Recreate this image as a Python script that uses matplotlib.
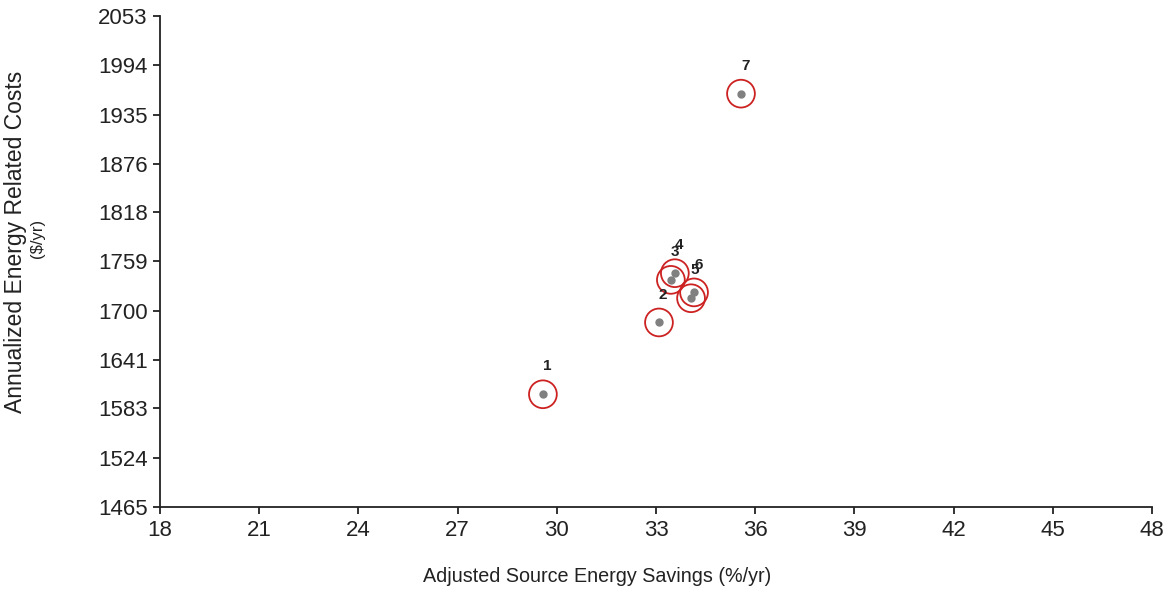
import matplotlib
matplotlib.use("Agg")
import matplotlib.pyplot as plt

plt.rcParams["font.family"] = ["Liberation Sans", "DejaVu Sans"]

labels = ["1", "2", "3", "4", "5", "6", "7"]
savings = [29.58, 33.09, 33.45, 33.57, 34.06, 34.15, 35.57]
costs = [1600, 1686, 1737, 1745, 1715, 1722, 1960]

x_ticks = [18, 21, 24, 27, 30, 33, 36, 39, 42, 45, 48]
y_ticks = [1465, 1524, 1583, 1641, 1700, 1759, 1818, 1876, 1935, 1994, 2053]

fig = plt.figure(figsize=(11.7, 5.9), dpi=100)
ax = fig.add_axes([160 / 1170, 83 / 590, 992 / 1170, 491 / 590])

ax.scatter(savings, costs, s=400, facecolors="none", edgecolors="#cc2222",
           linewidths=1.3, zorder=2)
ax.scatter(savings, costs, s=25, color="#808080", zorder=3)

for lab, x, y in zip(labels, savings, costs):
    ax.annotate(lab, (x, y), xytext=(3, 20), textcoords="offset points",
                ha="center", va="center", fontsize=11, fontweight="bold",
                color="#222222")

ax.set_xlim(18, 48)
ax.set_ylim(1465, 2053)
ax.set_xticks(x_ticks)
ax.set_yticks(y_ticks)
ax.tick_params(direction="out", length=5, width=1.3, labelsize=16,
               colors="#222222", pad=4)

for side in ["top", "right"]:
    ax.spines[side].set_visible(False)
for side in ["left", "bottom"]:
    ax.spines[side].set_linewidth(1.3)
    ax.spines[side].set_color("#222222")

fig.text(597 / 1170, 1 - 577 / 590, "Adjusted Source Energy Savings (%/yr)",
         fontsize=14.2, color="#222222", ha="center", va="center")
fig.text(16 / 1170, 1 - 242 / 590, "Annualized Energy Related Costs",
         fontsize=16.5, color="#222222", ha="center", va="center",
         rotation=90)
fig.text(38 / 1170, 1 - 238 / 590, "($/yr)",
         fontsize=12, color="#222222", ha="center", va="center",
         rotation=90)

fig.savefig("out.png", dpi=100)
plt.close(fig)
